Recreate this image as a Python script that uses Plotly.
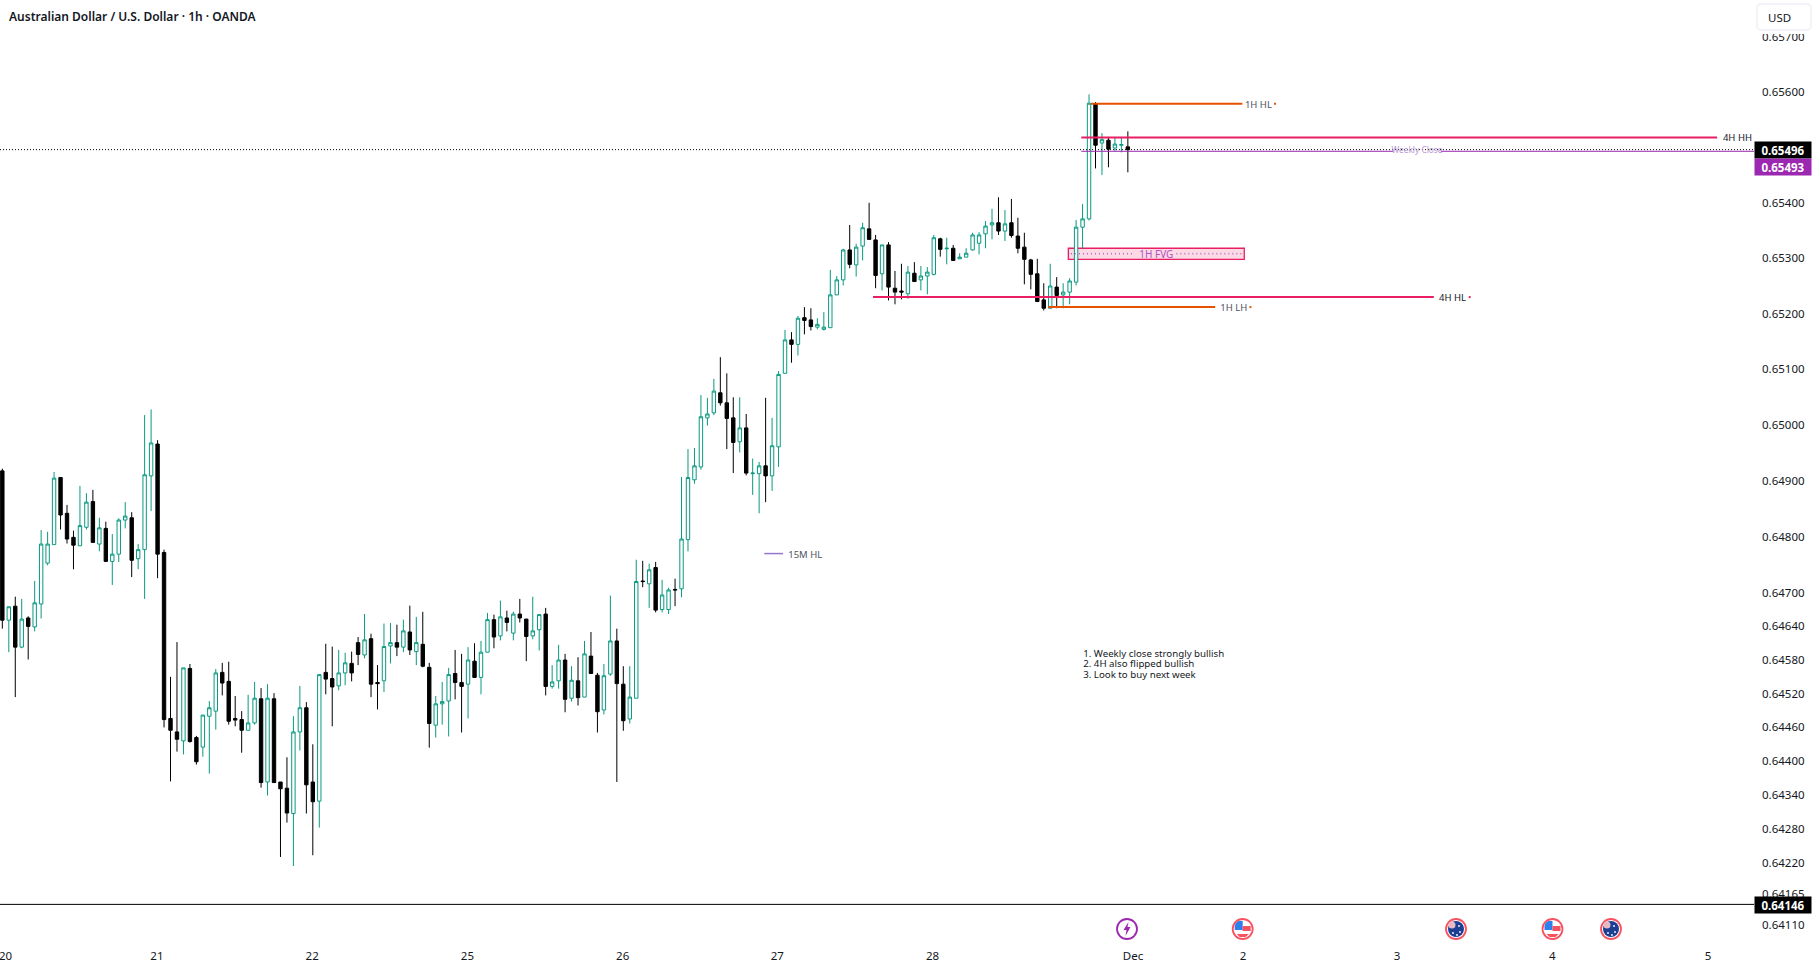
#recreate the AUD/USD 1h chart with the marked up levels
import math
import numpy as np
import plotly.graph_objects as go

#%%
#candles, prices are in points (price x 100000)
opens = [64918,64651,64676,64603,64655,64639,64680,64753,64786,64906,
64842,64799,64784,64817,64863,64787,64815,64756,64769,64830,
64834,64761,64777,64909,64966,64772,64476,64452,64436,64565,
64442,64425,64480,64489,64558,64542,64476,64474,64455,64468,
64511,64363,64511,64363,64352,64307,64452,64495,64363,64329,
64558,64547,64534,64557,64574,64611,64589,64618,64540,64543,
64605,64611,64603,64630,64595,64608,64567,64464,64502,64507,
64556,64540,64537,64578,64549,64594,64652,64623,64655,64628,
64662,64653,64623,64634,64662,64533,64543,64580,64512,64543,
64514,64587,64553,64491,64555,64614,64537,64475,64512,64721,
64716,64745,64670,64670,64706,64707,64795,64902,64925,65013,
65022,65058,65040,65013,64970,64995,64913,64913,64927,64909,
64961,65093,65153,65145,65193,65189,65176,65172,65175,65234,
65261,65315,65288,65322,65353,65333,65272,65324,65246,65241,
65236,65273,65261,65268,65271,65335,65317,65318,65299,65302,
65315,65327,65344,65360,65364,65349,65364,65340,65320,65297,
65272,65225,65210,65248,65234,65239,65257,65356,65371,65579,
65508,65513,65499,65504,65501]
highs = [64922,64675,64693,64689,64658,64721,64812,64809,64916,64906,
64857,64811,64891,64878,64884,64834,64827,64805,64833,64862,
64844,64787,65018,65028,64973,64777,64550,64612,64566,64573,
64445,64482,64507,64564,64575,64577,64516,64489,64518,64541,
64530,64537,64521,64363,64407,64480,64534,64505,64430,64554,
64609,64604,64598,64593,64595,64621,64662,64627,64571,64645,
64646,64643,64652,64677,64657,64666,64575,64516,64541,64566,
64598,64591,64603,64610,64614,64664,64661,64686,64668,64666,
64689,64653,64693,64662,64673,64571,64607,64591,64569,64585,
64614,64630,64557,64573,64695,64636,64569,64569,64759,64757,
64752,64755,64723,64709,64725,64907,64957,64959,65054,65049,
65083,65122,65093,65050,65050,65020,64940,64934,65049,65013,
65097,65171,65167,65196,65212,65210,65192,65203,65279,65268,
65317,65360,65326,65364,65400,65342,65324,65329,65277,65290,
65286,65293,65286,65284,65342,65337,65337,65324,65309,65318,
65346,65347,65367,65389,65410,65387,65407,65373,65346,65299,
65299,65255,65290,65266,65255,65264,65369,65398,65596,65582,
65526,65519,65519,65519,65529]
lows = [64636,64594,64514,64601,64581,64631,64654,64749,64786,64813,
64788,64742,64784,64813,64790,64774,64756,64714,64755,64815,
64728,64742,64689,64846,64726,64460,64364,64417,64412,64433,
64394,64408,64378,64456,64517,64465,64462,64415,64455,64465,
64353,64339,64362,64230,64291,64214,64419,64307,64233,64282,
64519,64462,64526,64535,64542,64571,64583,64514,64492,64523,
64574,64587,64594,64589,64571,64567,64424,64442,64465,64444,
64510,64451,64476,64549,64519,64594,64601,64615,64631,64615,
64647,64578,64617,64597,64517,64529,64529,64487,64506,64499,
64514,64555,64451,64483,64552,64363,64454,64467,64512,64710,
64673,64665,64665,64662,64676,64692,64774,64895,64920,64999,
65018,65035,64957,64914,64951,64910,64875,64842,64862,64882,
64925,65093,65112,65125,65163,65170,65172,65170,65175,65234,
65251,65282,65267,65296,65334,65246,65242,65224,65217,65226,
65227,65258,65242,65235,65269,65303,65289,65296,65299,65302,
65314,65307,65318,65334,65342,65331,65337,65309,65253,65244,
65222,65206,65210,65210,65210,65217,65251,65318,65368,65462,
65450,65464,65493,65491,65455]
closes = [64651,64675,64603,64653,64640,64682,64787,64787,64905,64839,
64796,64785,64820,64862,64790,64816,64756,64769,64830,64837,
64758,64777,64911,64968,64769,64474,64455,64439,64566,64435,
64399,64482,64495,64557,64539,64471,64473,64455,64468,64512,
64362,64512,64362,64351,64308,64452,64495,64358,64328,64554,
64546,64532,64557,64575,64557,64590,64616,64537,64538,64604,
64611,64603,64632,64598,64611,64569,64467,64502,64506,64554,
64540,64533,64580,64549,64594,64652,64621,64657,64647,64662,
64655,64622,64632,64661,64533,64541,64580,64510,64544,64513,
64591,64556,64488,64552,64614,64538,64472,64514,64720,64720,
64741,64669,64696,64705,64705,64796,64906,64927,65015,65020,
65061,65040,65012,64969,64995,64914,64914,64927,64909,64963,
65091,65153,65145,65192,65188,65177,65181,65176,65234,65261,
65315,65289,65320,65355,65334,65269,65324,65248,65239,65239,
65275,65258,65268,65275,65337,65316,65318,65296,65302,65309,
65342,65342,65358,65364,65349,65362,65341,65318,65298,65271,
65222,65210,65250,65233,65239,65259,65356,65371,65580,65504,
65514,65497,65506,65505,65496]

#time axis, bar number of each day label ('20' sits on the left edge and is added by hand below)
day_bars = [23.9,47.9,71.9,95.9,119.8,143.8,174.8,191.8,215.6,239.6,263.7]
day_labels = ['21','22','25','26','27','28','Dec','2','3','4','5']

#price axis
price_ticks = [0.657,0.656,0.654,0.653,0.652,0.651,0.650,0.649,0.648,0.647,0.6464,0.6458,0.6452,0.6446,0.644,0.6434,0.6428,0.6422,0.64165,0.6411]
price_top = 0.65767
price_bottom = 0.64083
bars_left = -0.36
bars_right = 270.8

#levels drawn on the chart
last_price = 0.65496
low_price = 0.64146
hl_1h = 0.65579
hh_4h = 0.65518
weekly_close = 0.65493
hl_4h = 0.65230
lh_1h = 0.65212
fvg_top = 0.65318
fvg_bottom = 0.65298
fvg_mid = 0.65308
hl_15m = 0.64770
note_lines = ['1. Weekly close strongly bullish','2. 4H also flipped bullish','3. Look to buy next week']
note_prices = [0.64590,0.64572,0.64552]

GREEN = '#089981'
PINK = '#e91e63'
ORANGE = '#e65100'
PURPLE = '#9c27b0'
TEXT = '#131722'
FONT = 'Noto Sans'

#chart size in pixels, used for the things that sit on top of the axes
PANE_W = 1754
PANE_H = 940
TEXT_DROP = 0.00003 #text sits a touch high against the lines otherwise

def px(x):
    return x/PANE_W

def py(y):
    return 1-y/PANE_H

#%%
bars = list(range(len(opens)))
fig = go.Figure()
fig.add_trace(go.Candlestick(x=bars,
    open=np.array(opens)/1e5, high=np.array(highs)/1e5, low=np.array(lows)/1e5, close=np.array(closes)/1e5,
    increasing=dict(line=dict(color=GREEN, width=1), fillcolor='white'),
    decreasing=dict(line=dict(color='black', width=1), fillcolor='black'),
    whiskerwidth=0, hoverinfo='skip', showlegend=False))

def level(xs, price, color, width=2, dash='solid'):
    ys = [None if x is None else price for x in xs]
    fig.add_trace(go.Scatter(x=xs, y=ys, mode='lines', line=dict(color=color, width=width, dash=dash), hoverinfo='skip', showlegend=False, connectgaps=False))

def label(x, price, text, color='#50535e', size=9.5, position='middle right', drop=TEXT_DROP):
    fig.add_trace(go.Scatter(x=[x], y=[price-drop], mode='text', text=[text], textposition=position,
        textfont=dict(family=FONT, size=size, color=color), hoverinfo='skip', showlegend=False))

#price lines
level([bars_left, bars_right], low_price, 'black', width=1)
level([bars_left, bars_right], last_price, 'black', width=1, dash='1px,2px')
level([166.8,215.0,None,222.4,bars_right], weekly_close, PURPLE, width=1)
level([168.3,191.7,None,196.6,196.9], hl_1h, ORANGE)
level([166.8,265.1], hh_4h, PINK)
level([134.6,221.3,None,226.7,227.0], hl_4h, PINK)
level([161.7,187.5,None,192.8,193.1], lh_1h, ORANGE)
level([117.8,120.7], hl_15m, '#9575cd', width=1.5)

#dotted middle of the FVG box
level([165.2,175.1,None,181.5,191.7], fvg_mid, PURPLE, width=1, dash='1px,3px')

label(192.1, hl_1h, '1H HL')
label(266.0, hh_4h, '4H HH', color=TEXT)
label(222.1, hl_4h, '4H HL', color=TEXT)
label(188.3, lh_1h, '1H LH')
label(121.5, hl_15m, '15M HL')
label(178.4, fvg_mid, '1H FVG', color='#b14fc4', size=10, position='middle center')
label(218.7, weekly_close, 'Weekly Close', color='#b795d0', size=8.3, position='middle center', drop=0)

fig.add_trace(go.Scatter(x=[167.1]*3, y=note_prices, mode='text', text=note_lines, textposition='middle right',
    textfont=dict(family=FONT, size=9.7, color=TEXT), hoverinfo='skip', showlegend=False))

#the FVG box goes under the candles
fig.add_shape(type='rect', xref='x', yref='y', x0=164.8, x1=192.0, y0=fvg_bottom, y1=fvg_top,
    fillcolor='#fbd9e5', line=dict(color=PINK, width=1.3), layer='below')

#%%
#price labels on the axis
def price_box(y, text, color):
    fig.add_annotation(xref='paper', yref='paper', x=1, y=py(y), xanchor='left', yanchor='middle', text=text,
        showarrow=False, width=56, height=16, borderpad=0, bgcolor=color, align='center',
        font=dict(family=FONT, size=11.5, color='white', weight='bold'))

price_box(149.5, '%.5f' % last_price, 'black')
price_box(166.5, '0.65493', PURPLE)
price_box(904.5, '%.5f' % low_price, 'black')

#USD button, it cuts off the top of the first price label
def rounded(x0, y0, x1, y1, r):
    return ('M %f %f L %f %f Q %f %f %f %f L %f %f Q %f %f %f %f L %f %f Q %f %f %f %f L %f %f Q %f %f %f %f Z' % (
        px(x0+r), py(y0), px(x1-r), py(y0), px(x1), py(y0), px(x1), py(y0+r), px(x1), py(y1-r), px(x1), py(y1), px(x1-r), py(y1),
        px(x0+r), py(y1), px(x0), py(y1), px(x0), py(y1-r), px(x0), py(y0+r), px(x0), py(y0), px(x0+r), py(y0)))

fig.add_shape(type='rect', xref='paper', yref='paper', x0=px(1755), x1=px(1815), y0=py(34), y1=1, fillcolor='white', line=dict(width=0), layer='above')
fig.add_shape(type='path', xref='paper', yref='paper', path=rounded(1757,4,1811,30,4), fillcolor='white', line=dict(color='#eef0f5', width=1.5), layer='above')
fig.add_annotation(xref='paper', yref='paper', x=px(1766), y=py(17), xanchor='left', yanchor='middle', text='USD', showarrow=False,
    font=dict(family=FONT, size=11.5, color=TEXT))

#title
fig.add_annotation(xref='paper', yref='paper', x=px(7), y=py(16), xanchor='left', yanchor='middle', text='Australian Dollar / U.S. Dollar · 1h · OANDA',
    showarrow=False, font=dict(family=FONT, size=12, color=TEXT, weight=600))

#first day label is half off the page so plotly drops it from the axis
fig.add_annotation(xref='paper', yref='paper', x=px(-3.5), y=py(955.5), xanchor='left', yanchor='middle', text='20', showarrow=False,
    font=dict(family=FONT, size=11.5, color=TEXT))

#%%
#event icons under the candles
ICON_Y = 929

def circle(x, y, r, fill, line_color=None, width=0):
    fig.add_shape(type='circle', xref='paper', yref='paper', x0=px(x-r), x1=px(x+r), y0=py(y+r), y1=py(y-r),
        fillcolor=fill, line=dict(color=line_color if line_color else fill, width=width), layer='above')

def poly(points, fill):
    path = 'M ' + ' L '.join('%f %f' % (px(a), py(b)) for a, b in points) + ' Z'
    fig.add_shape(type='path', xref='paper', yref='paper', path=path, fillcolor=fill, line=dict(width=0), layer='above')

def us_icon(x):
    circle(x, ICON_Y, 10, 'white', '#f7525f', 1.8)
    poly([(x-7,ICON_Y-6),(x-4,ICON_Y-8),(x,ICON_Y-8),(x,ICON_Y+1),(x-8,ICON_Y+1),(x-8,ICON_Y-3)], '#2f80ed')
    poly([(x,ICON_Y-3),(x+8,ICON_Y-3),(x+8,ICON_Y+2),(x,ICON_Y+2)], '#f7525f')
    poly([(x-6,ICON_Y+5),(x+6,ICON_Y+5),(x+3,ICON_Y+8),(x-3,ICON_Y+8)], '#f7525f')

def au_icon(x):
    circle(x, ICON_Y, 10, 'white', '#f7525f', 1.8)
    circle(x, ICON_Y, 8, '#1c3f94')
    circle(x-4, ICON_Y-4, 3.5, '#e8b9c4')
    for a, b in [(-3,4),(3,-3),(4,3),(1,6)]:
        circle(x+a, ICON_Y+b, 0.9, 'white')

circle(1127, ICON_Y, 10, 'white', PURPLE, 1.8)
poly([(1128.5,ICON_Y-7),(1123.5,ICON_Y+1),(1126.5,ICON_Y+1),(1125.5,ICON_Y+7),(1130.5,ICON_Y-2),(1127.5,ICON_Y-2)], PURPLE)
us_icon(1242.7)
au_icon(1456)
us_icon(1552.5)
au_icon(1611)

#%%
fig.update_layout(width=1815, height=970, margin=dict(l=0, r=1815-PANE_W, t=0, b=970-PANE_H), paper_bgcolor='white', plot_bgcolor='white',
    boxgap=0.25, showlegend=False, hovermode=False,
    xaxis=dict(range=[bars_left, bars_right], rangeslider=dict(visible=False), showgrid=False, zeroline=False, showline=False,
        tickmode='array', tickvals=day_bars, ticktext=day_labels, ticks='', ticklabelstandoff=7,
        tickfont=dict(family=FONT, size=11.5, color=TEXT)),
    yaxis=dict(type='log', side='right', range=[math.log10(price_bottom), math.log10(price_top)], showgrid=False, zeroline=False, showline=False,
        tickmode='array', tickvals=price_ticks, ticktext=['%.5f' % p for p in price_ticks], ticks='', ticklabelstandoff=7,
        tickfont=dict(family=FONT, size=11.5, color=TEXT)))

fig.write_html('out.html', config=dict(displayModeBar=False), post_script="document.body.style.margin='0';document.body.style.overflow='hidden';")
